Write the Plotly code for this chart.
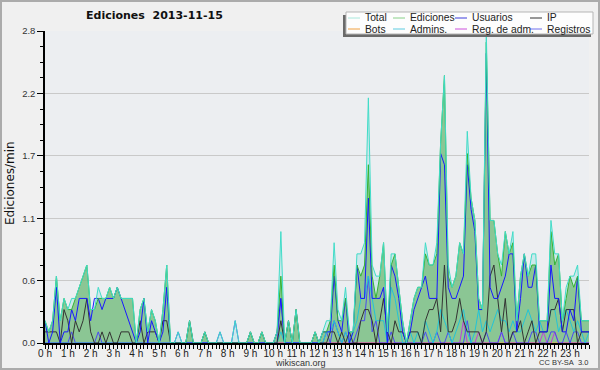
import plotly.graph_objects as go

# ---- data: 10-minute slots (index 0..143), values in edits/min ----
hour_labels = [f"{h} h" for h in range(24)]

total = [0.2, 0.1, 0.2, 0.6, 0.2, 0.4,  0.3, 0.4, 0.4, 0.5, 0.6, 0.7,
         0.3, 0.3, 0.5, 0.4, 0.4, 0.5,  0.4, 0.5, 0.4, 0.4, 0.4, 0.4,
         0.0, 0.3, 0.4, 0.1, 0.3, 0.2,  0.0, 0.3, 0.7, 0.0, 0.0, 0.1,
         0.0, 0.0, 0.2, 0.0, 0.0, 0.0,  0.1, 0.0, 0.0, 0.0, 0.1, 0.0,
         0.0, 0.0, 0.2, 0.0, 0.0, 0.0,  0.1, 0.0, 0.0, 0.1, 0.0, 0.0,
         0.0, 0.1, 1.0, 0.0, 0.2, 0.0,  0.3, 0.0, 0.0, 0.0, 0.0, 0.1,
         0.0, 0.1, 0.2, 0.2, 0.9, 0.3,  0.2, 0.5, 0.1, 0.1, 0.8, 0.8,
         0.9, 2.2, 0.7, 0.6, 0.6, 0.9,  0.1, 0.8, 0.8, 0.5, 0.2, 0.0,
         0.2, 0.4, 0.5, 0.5, 0.9, 0.7,  0.7, 0.9, 1.8, 2.4, 0.7, 0.5,
         0.6, 0.9, 0.8, 1.9, 1.3, 1.1,  0.4, 0.3, 2.8, 1.1, 1.1, 0.8,
         0.7, 1.0, 0.8, 1.0, 0.2, 0.6,  0.8, 0.6, 0.8, 0.8, 0.2, 0.2,
         0.2, 1.1, 0.8, 0.8, 0.2, 0.5,  0.6, 0.6, 0.7, 0.2, 0.2, 0.2]

ediciones = [0.2, 0.1, 0.2, 0.6, 0.2, 0.4,  0.3, 0.3, 0.4, 0.5, 0.6, 0.7,
             0.3, 0.3, 0.4, 0.4, 0.4, 0.5,  0.4, 0.5, 0.4, 0.4, 0.4, 0.4,
             0.0, 0.3, 0.4, 0.1, 0.3, 0.2,  0.0, 0.3, 0.7, 0.0, 0.0, 0.0,
             0.0, 0.0, 0.2, 0.0, 0.0, 0.0,  0.1, 0.0, 0.0, 0.0, 0.0, 0.0,
             0.0, 0.0, 0.0, 0.0, 0.0, 0.0,  0.1, 0.0, 0.0, 0.1, 0.0, 0.0,
             0.0, 0.1, 0.6, 0.0, 0.2, 0.0,  0.3, 0.0, 0.0, 0.0, 0.0, 0.1,
             0.0, 0.1, 0.1, 0.2, 0.7, 0.2,  0.2, 0.4, 0.1, 0.1, 0.7, 0.6,
             0.7, 1.6, 0.6, 0.4, 0.6, 0.9,  0.1, 0.7, 0.8, 0.5, 0.2, 0.0,
             0.2, 0.4, 0.5, 0.5, 0.8, 0.7,  0.7, 0.8, 1.8, 2.4, 0.6, 0.5,
             0.6, 0.9, 0.8, 1.7, 1.3, 1.1,  0.4, 0.3, 2.7, 1.1, 1.1, 0.8,
             0.6, 1.0, 0.8, 0.9, 0.2, 0.6,  0.8, 0.6, 0.7, 0.7, 0.2, 0.2,
             0.2, 1.0, 0.7, 0.8, 0.2, 0.4,  0.6, 0.5, 0.6, 0.2, 0.2, 0.2]

usuarios = [0.2, 0.0, 0.1, 0.5, 0.0, 0.1,  0.1, 0.3, 0.2, 0.4, 0.4, 0.4,
            0.2, 0.4, 0.4, 0.3, 0.4, 0.4,  0.4, 0.5, 0.4, 0.3, 0.2, 0.1,
            0.0, 0.1, 0.4, 0.0, 0.2, 0.1,  0.0, 0.1, 0.5, 0.0, 0.0, 0.0,
            0.0, 0.0, 0.0, 0.0, 0.0, 0.0,  0.0, 0.0, 0.0, 0.0, 0.0, 0.0,
            0.0, 0.0, 0.0, 0.0, 0.0, 0.0,  0.0, 0.0, 0.0, 0.0, 0.0, 0.0,
            0.0, 0.1, 0.4, 0.0, 0.0, 0.0,  0.0, 0.0, 0.0, 0.0, 0.0, 0.0,
            0.0, 0.1, 0.1, 0.1, 0.6, 0.2,  0.1, 0.4, 0.0, 0.1, 0.7, 0.4,
            0.4, 1.3, 0.4, 0.4, 0.4, 0.5,  0.0, 0.7, 0.6, 0.4, 0.1, 0.0,
            0.1, 0.3, 0.4, 0.5, 0.6, 0.4,  0.4, 0.4, 1.7, 1.6, 0.5, 0.4,
            0.4, 0.5, 0.6, 1.6, 1.2, 1.0,  0.3, 0.3, 2.6, 0.5, 0.4, 0.4,
            0.5, 0.6, 0.8, 0.8, 0.1, 0.4,  0.8, 0.5, 0.5, 0.7, 0.1, 0.1,
            0.1, 0.7, 0.4, 0.4, 0.1, 0.1,  0.3, 0.2, 0.6, 0.1, 0.1, 0.1]

ip = [0.1, 0.1, 0.1, 0.1, 0.0, 0.3,  0.2, 0.0, 0.2, 0.1, 0.2, 0.4,
      0.1, 0.0, 0.0, 0.1, 0.0, 0.1,  0.0, 0.0, 0.1, 0.1, 0.1, 0.0,
      0.0, 0.2, 0.0, 0.1, 0.1, 0.1,  0.0, 0.2, 0.2, 0.0, 0.0, 0.0,
      0.0, 0.0, 0.2, 0.0, 0.0, 0.0,  0.1, 0.0, 0.0, 0.0, 0.0, 0.0,
      0.0, 0.0, 0.0, 0.0, 0.0, 0.0,  0.1, 0.0, 0.0, 0.1, 0.0, 0.0,
      0.0, 0.0, 0.2, 0.0, 0.2, 0.0,  0.3, 0.0, 0.0, 0.0, 0.0, 0.1,
      0.0, 0.0, 0.0, 0.1, 0.1, 0.0,  0.1, 0.0, 0.1, 0.0, 0.0, 0.2,
      0.3, 0.3, 0.2, 0.0, 0.2, 0.4,  0.1, 0.0, 0.2, 0.1, 0.1, 0.0,
      0.1, 0.1, 0.1, 0.0, 0.2, 0.3,  0.3, 0.4, 0.1, 0.7, 0.1, 0.1,
      0.2, 0.4, 0.2, 0.1, 0.1, 0.1,  0.1, 0.0, 0.1, 0.6, 0.7, 0.4,
      0.1, 0.4, 0.0, 0.1, 0.1, 0.2,  0.0, 0.1, 0.2, 0.0, 0.1, 0.1,
      0.1, 0.3, 0.3, 0.4, 0.1, 0.3,  0.3, 0.3, 0.0, 0.1, 0.1, 0.1]

bots = [0.0] * 144

admins = [0.0, 0.0, 0.0, 0.0, 0.0, 0.0,  0.0, 0.0, 0.0, 0.0, 0.0, 0.0,
          0.0, 0.0, 0.0, 0.0, 0.0, 0.0,  0.0, 0.0, 0.0, 0.0, 0.0, 0.0,
          0.0, 0.0, 0.0, 0.0, 0.0, 0.0,  0.0, 0.0, 0.0, 0.0, 0.0, 0.0,
          0.0, 0.0, 0.0, 0.0, 0.0, 0.0,  0.0, 0.0, 0.0, 0.0, 0.0, 0.0,
          0.0, 0.0, 0.0, 0.0, 0.0, 0.0,  0.0, 0.0, 0.0, 0.0, 0.0, 0.0,
          0.0, 0.0, 0.1, 0.0, 0.0, 0.0,  0.0, 0.0, 0.0, 0.0, 0.0, 0.0,
          0.0, 0.0, 0.1, 0.1, 0.2, 0.1,  0.0, 0.1, 0.0, 0.1, 0.2, 0.4,
          0.4, 0.6, 0.4, 0.2, 0.2, 0.2,  0.0, 0.5, 0.4, 0.2, 0.0, 0.0,
          0.1, 0.0, 0.1, 0.0, 0.2, 0.1,  0.0, 0.1, 0.3, 0.2, 0.1, 0.0,
          0.1, 0.2, 0.3, 0.1, 0.0, 0.1,  0.3, 0.1, 0.2, 0.1, 0.2, 0.3,
          0.2, 0.2, 0.1, 0.2, 0.1, 0.1,  0.2, 0.3, 0.2, 0.1, 0.2, 0.1,
          0.1, 0.3, 0.3, 0.1, 0.2, 0.3,  0.2, 0.1, 0.2, 0.1, 0.0, 0.1]

reg_adm = [0.0] * 108 + [0.0, 0.0, 0.2, 0.0, 0.0, 0.0,
                         0.1, 0.0, 0.0, 0.0, 0.0, 0.0,
                         0.1, 0.0, 0.0, 0.0, 0.0, 0.0,
                         0.0, 0.0, 0.0, 0.0, 0.0, 0.1,
                         0.0, 0.0, 0.1, 0.0, 0.0, 0.0,
                         0.0, 0.0, 0.0, 0.0, 0.0, 0.0]

registros = [0.0, 0.0, 0.0, 0.0, 0.0, 0.0,  0.0, 0.1, 0.0, 0.0, 0.0, 0.0,
             0.0, 0.0, 0.1, 0.0, 0.0, 0.0,  0.0, 0.0, 0.0, 0.0, 0.0, 0.0,
             0.0, 0.0, 0.0, 0.0, 0.0, 0.0,  0.0, 0.0, 0.0, 0.0, 0.0, 0.1,
             0.0, 0.0, 0.0, 0.0, 0.0, 0.0,  0.0, 0.0, 0.0, 0.0, 0.1, 0.0,
             0.0, 0.0, 0.2, 0.0, 0.0, 0.0,  0.0, 0.0, 0.0, 0.0, 0.0, 0.0,
             0.0, 0.0, 0.4, 0.0, 0.0, 0.0,  0.0, 0.0, 0.0, 0.0, 0.0, 0.0,
             0.0, 0.0, 0.1, 0.0, 0.2, 0.1,  0.0, 0.1, 0.0, 0.0, 0.1, 0.2,
             0.2, 0.6, 0.1, 0.2, 0.0, 0.0,  0.0, 0.1, 0.0, 0.0, 0.0, 0.0,
             0.0, 0.0, 0.0, 0.0, 0.1, 0.0,  0.0, 0.1, 0.0, 0.0, 0.1, 0.0,
             0.0, 0.0, 0.0, 0.2, 0.0, 0.0,  0.0, 0.0, 0.1, 0.0, 0.0, 0.0,
             0.1, 0.0, 0.0, 0.1, 0.0, 0.0,  0.0, 0.0, 0.1, 0.1, 0.0, 0.0,
             0.0, 0.1, 0.1, 0.0, 0.0, 0.1,  0.0, 0.1, 0.1, 0.0, 0.0, 0.0]

x = list(range(len(total)))

# ---- layout geometry (pixels) ----
W, H = 600, 370
L, R, T, B = 45, 11, 31, 27
PW, PH = W - L - R, H - T - B


def px(v):
    return (v - L) / PW


def py(v):
    return (H - B - v) / PH


fig = go.Figure()

# filled areas
fig.add_trace(go.Scatter(x=x, y=total, mode="lines", fill="tozeroy",
                         fillcolor="rgba(180,228,230,0.55)",
                         line=dict(color="rgba(0,0,0,0)", width=0), hoverinfo="skip"))
fig.add_trace(go.Scatter(x=x, y=ediciones, mode="lines", fill="tozeroy",
                         fillcolor="rgba(95,175,90,0.60)",
                         line=dict(color="rgba(0,0,0,0)", width=0), hoverinfo="skip"))

# lines
line_series = [
    ("Bots", bots, "#f0a040"),
    ("Reg. de adm.", reg_adm, "#c040d8"),
    ("Registros", registros, "#4a4af0"),
    ("Admins.", admins, "#22c4d8"),
    ("IP", ip, "#333333"),
    ("Usuarios", usuarios, "#1818ff"),
    ("Ediciones", ediciones, "#34b434"),
    ("Total", total, "#40dcc8"),
]
for name, vals, col in line_series:
    fig.add_trace(go.Scatter(x=x, y=vals, mode="lines", name=name,
                             line=dict(color=col, width=1)))

fig.update_layout(
    width=W, height=H,
    margin=dict(l=L, r=R, t=T, b=B, pad=0, autoexpand=False),
    paper_bgcolor="#f0f0f0",
    plot_bgcolor="#eceef1",
    showlegend=False,
    font=dict(family="Liberation Sans, Arial, sans-serif", color="#222"),
)

fig.update_xaxes(
    range=[0, 143], showgrid=False, zeroline=False, automargin=False,
    showline=True, linecolor="#000", linewidth=1.5,
    tickmode="array", tickvals=list(range(0, 144, 6)), ticktext=hour_labels,
    ticks="outside", ticklen=4, tickcolor="#000", tickwidth=1,
    ticklabelstandoff=-4,
    tickfont=dict(size=10, color="#222"),
    minor=dict(tickmode="linear", tick0=0, dtick=1, ticks="outside",
               ticklen=4, tickcolor="#000", tickwidth=1, showgrid=False),
)

y_ticks = [0, 0.56, 1.12, 1.68, 2.24, 2.8]
y_tick_labels = ["0.0", "0.6", "1.1", "1.7", "2.2", "2.8"]
fig.update_yaxes(
    range=[0, 2.8], zeroline=False, automargin=False,
    showgrid=True, gridcolor="#c9c9c9", gridwidth=1,
    showline=True, linecolor="#000", linewidth=1.5,
    tickmode="array", tickvals=y_ticks, ticktext=y_tick_labels,
    ticks="outside", ticklen=6, tickcolor="#000", tickwidth=1,
    tickfont=dict(size=9.5, color="#333"),
    minor=dict(tickmode="linear", tick0=0, dtick=0.14, ticks="outside",
               ticklen=3, tickcolor="#000", tickwidth=1, showgrid=False),
)

shapes = []
ann = []

# outer frame
shapes.append(dict(type="rect", xref="paper", yref="paper",
                   x0=px(1), x1=px(W - 1), y0=py(H - 1), y1=py(1),
                   line=dict(color="#ababab", width=2), layer="above"))

# legend box with shadow
shapes.append(dict(type="rect", xref="paper", yref="paper",
                   x0=px(343), x1=px(591), y0=py(37), y1=py(15),
                   fillcolor="#6a6a6a", line=dict(width=0), layer="above"))
shapes.append(dict(type="rect", xref="paper", yref="paper",
                   x0=px(346), x1=px(593), y0=py(34), y1=py(12),
                   fillcolor="#fdfdfd", line=dict(color="#b5b5b5", width=1), layer="above"))

legend_items = [
    ("Total", "#a8e8dc", 348, 18),
    ("Ediciones", "#88d088", 393, 18),
    ("Usuarios", "#3c3cdc", 455, 18),
    ("IP", "#333333", 530, 18),
    ("Bots", "#f0a040", 348, 29),
    ("Admins.", "#5ccbe0", 393, 29),
    ("Reg. de adm.", "#cc50dc", 455, 29),
    ("Registros", "#7070ee", 530, 29),
]
for name, col, sx, sy in legend_items:
    shapes.append(dict(type="line", xref="paper", yref="paper",
                       x0=px(sx), x1=px(sx + 12), y0=py(sy), y1=py(sy),
                       line=dict(color=col, width=1), layer="above"))
    ann.append(dict(text=name, xref="paper", yref="paper",
                    x=px(sx + 15), y=py(sy), xanchor="left", yanchor="middle",
                    showarrow=False, font=dict(size=10.3, color="#222")))

# title
ann.append(dict(text="<b>Ediciones\u00a0\u00a02013-11-15</b>", xref="paper", yref="paper",
                x=px(154), y=py(16), xanchor="center", yanchor="middle",
                showarrow=False, font=dict(family="DejaVu Sans", size=11, color="#111")))
# y title
ann.append(dict(text="Ediciones/min", xref="paper", yref="paper",
                x=px(10), y=py(183), xanchor="center", yanchor="middle", textangle=-90,
                showarrow=False, font=dict(family="DejaVu Sans", size=12, color="#111")))
# footer
ann.append(dict(text="wikiscan.org", xref="paper", yref="paper",
                x=px(300), y=py(363), xanchor="center", yanchor="middle",
                showarrow=False, font=dict(size=9, color="#333")))
ann.append(dict(text="CC BY-SA\u00a0\u00a03.0", xref="paper", yref="paper",
                x=px(590), y=py(362), xanchor="right", yanchor="middle",
                showarrow=False, font=dict(size=7.5, color="#333")))

fig.update_layout(shapes=shapes, annotations=ann)

fig.write_html("out.html", config={"displayModeBar": False},
               post_script="document.body.style.margin='0';")
